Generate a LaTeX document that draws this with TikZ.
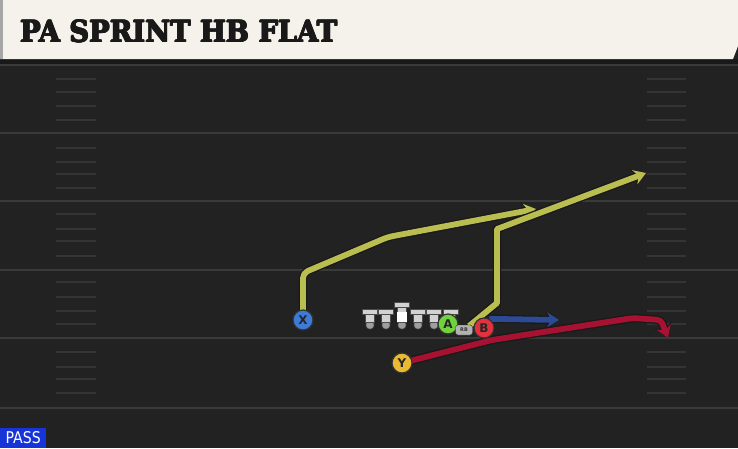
\documentclass[tikz,border=0pt]{standalone}
\usepackage{fontspec}
\usetikzlibrary{arrows.meta}
\newfontfamily\titlefont{DejaVu Serif}
\newfontfamily\badgefont{DejaVu Sans Condensed}
\newfontfamily\playerfont{DejaVu Sans}
\definecolor{fieldbg}{RGB}{34,34,34}
\definecolor{lineclr}{RGB}{58,58,58}
\definecolor{hashclr}{RGB}{52,52,52}
\definecolor{hdrbg}{RGB}{245,242,235}
\definecolor{yel}{RGB}{186,189,80}
\definecolor{redr}{RGB}{168,18,50}
\definecolor{bluer}{RGB}{44,74,150}
\definecolor{cX}{RGB}{60,124,216}
\definecolor{cY}{RGB}{234,186,48}
\definecolor{cA}{RGB}{112,210,60}
\definecolor{cB}{RGB}{226,50,62}
\definecolor{passblue}{RGB}{22,52,216}
\definecolor{lman}{RGB}{210,210,210}
\pgfdeclarelayer{field}
\pgfdeclarelayer{routes}
\pgfsetlayers{field,routes,main}
\newcommand\ttltext{\resizebox{317pt}{22pt}{\titlefont\bfseries PA SPRINT HB FLAT}}
\tikzset{
  yard/.style={draw=lineclr, line width=1.8pt},
  hashm/.style={draw=hashclr, line width=1.5pt},
  ttl/.style={anchor=south west, inner sep=0pt, text=black!90},
  player/.style={circle, minimum size=20pt, inner sep=0pt, draw=black!80, line width=1.2pt,
     font=\playerfont\bfseries\fontsize{12}{12}\selectfont, text=black!85},
  routeout/.style={draw=black!90, line width=8.4pt, line join=round,
     -{Stealth[length=14pt,width=18pt,inset=5pt]}},
  routein/.style={draw=#1, line width=5.8pt, line join=round,
     -{Stealth[length=12pt,width=15pt,inset=4.2pt,fill=#1]}},
}
\begin{document}
\begin{tikzpicture}[x=1pt,y=-1pt]
\begin{pgfonlayer}{field}
\fill[fieldbg] (0,0) rectangle (738,448);
\useasboundingbox (0,0) rectangle (738,448);
\fill[black!90] (0,59) rectangle (738,64);
\foreach \yy in {65,133,201,270,338,408} \draw[yard] (0,\yy) -- (738,\yy);
\foreach \yy in {79,92,106,120,148,162,174,188,214,229,241,256,282,297,311,324,352,367,379,393} {
  \draw[hashm] (56,\yy) -- (96,\yy);
  \draw[hashm] (647,\yy) -- (686,\yy);
}
\fill[hdrbg] (0,0) -- (738,0) -- (738,46) -- (733,59) -- (0,59) -- cycle;
\fill[black!35] (0,0) rectangle (3,59);
\foreach \dx/\dy in {-0.7/0,0.7/0,0/0.5,0/-0.5,-0.5/0.4,0.5/-0.4}
  \node[ttl] at (20+\dx,43+\dy) {\ttltext};
\end{pgfonlayer}
\node[ttl] (title) at (20,43) {\ttltext};
\node[fill=passblue, anchor=south west, minimum width=46pt, minimum height=20pt, inner sep=0pt] (pass) at (0,448) {};
\node[text=white, inner sep=0pt] (passtxt) at (pass.center)
  {\resizebox{35pt}{12pt}{\badgefont PASS}};
% linemen
\foreach \xx/\nm in {370/l1,386/l2,418/l4,434/l5,451/l6} {
  \fill[black!60] (\xx,325) circle (4.4);
  \fill[lman!75!black] (\xx,325) circle (3.6);
  \draw[black!70, fill=lman] (\xx-7.5,309) rectangle (\xx+7.5,314);
  \draw[black!70, fill=lman] (\xx-4.5,314) rectangle (\xx+4.5,322);
  \coordinate (\nm) at (\xx,316);
}
\fill[black!60] (402,325) circle (4.4);
\fill[lman!75!black] (402,325) circle (3.6);
\draw[black!70, fill=lman] (394.5,302) rectangle (409.5,307);
\draw[black!70, fill=lman] (397.5,307) rectangle (406.5,322);
\fill[white] (397,312) rectangle (407,322);
\coordinate (l3) at (402,312);
% players
\node[player, fill=cX] (X) at (303,320) {X};
\node[player, fill=cY] (Y) at (402,363) {Y};
\node[player, fill=cA] (A) at (448,324) {A};
\node[draw=black!80, fill=black!30, rounded corners=2.5pt, minimum width=17pt, minimum height=10pt,
  inner sep=0pt, font=\playerfont\bfseries\fontsize{5}{5}\selectfont, text=black!80] (RB) at (464,330) {RB};
\node[player, fill=cB] (B) at (484,328) {B};
% routes
\coordinate (x1) at (303,273);
\coordinate (x2) at (388,237);
\coordinate (x3) at (536,209);
\coordinate (a0) at (469,326);
\coordinate (a1) at (497,303);
\coordinate (a2) at (497,229);
\coordinate (a3) at (646,173);
\coordinate (b1) at (559,320);
\coordinate (y1) at (492,340);
\coordinate (y2) at (633,318);
\coordinate (y3) at (661,320);
\coordinate (y4) at (668,338);
\begin{pgfonlayer}{routes}
\draw[routeout, rounded corners=5pt] (X.center) -- (x1) -- (x2) -- (x3);
\draw[routein=yel, rounded corners=5pt] (X.center) -- (x1) -- (x2) -- (x3);
\draw[routeout] (a0) -- (a1) -- (a2) -- (a3);
\draw[routein=yel] (a0) -- (a1) -- (a2) -- (a3);
\draw[routeout] (B.60) -- (b1);
\draw[routein=bluer] (B.60) -- (b1);
\draw[routeout, rounded corners=4pt] (Y.center) -- (y1) -- (y2) -- (y3) -- (y4);
\draw[routein=redr, rounded corners=4pt] (Y.center) -- (y1) -- (y2) -- (y3) -- (y4);
\end{pgfonlayer}
\end{tikzpicture}
\end{document}
